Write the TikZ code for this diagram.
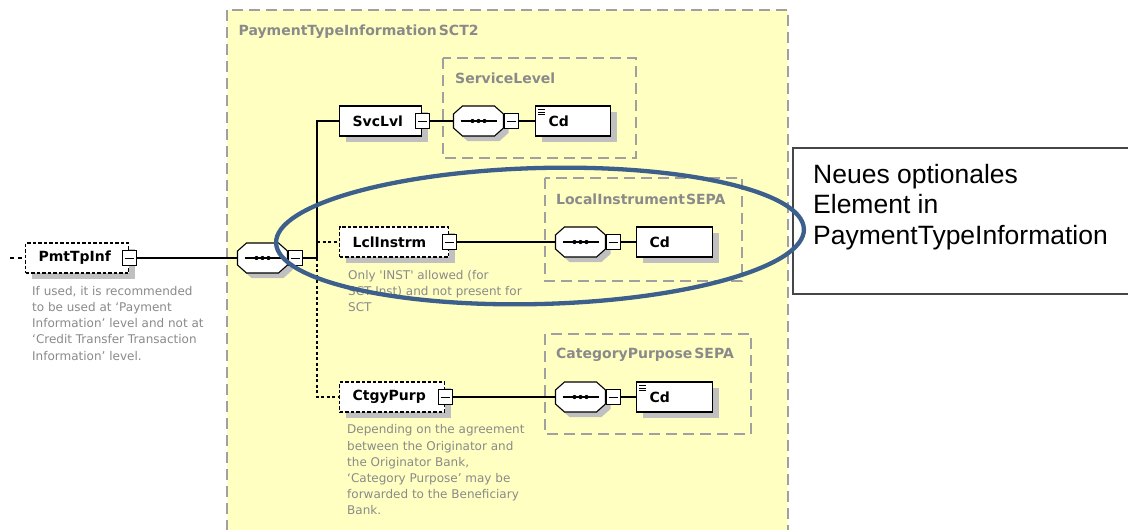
\documentclass[tikz,border=0pt]{standalone}
\usepackage{fontspec}
\setmainfont{DejaVu Sans}[Ligatures=TeXOff]
\newfontfamily\arialf{Liberation Sans}
\usetikzlibrary{shadows}
\definecolor{yel}{RGB}{255,255,194}
\definecolor{boxgray}{RGB}{160,160,160}
\definecolor{txtgray}{RGB}{138,138,138}
\definecolor{shadowgray}{RGB}{192,192,192}
\definecolor{ellblue}{RGB}{60,95,140}
\definecolor{callgray}{RGB}{70,70,70}

\newcommand\octpath{(-25,-7) -- (-16,-15) -- (16,-15) -- (25,-7) -- (25,7) -- (16,15) -- (-16,15) -- (-25,7) -- cycle}
% sequence compositor: name, x, y
\newcommand\seqcomp[3]{%
  \begin{scope}[shift={(#2,#3)}]
    \fill[shadowgray, shift={(5,5)}] \octpath;
    \draw[line width=1.1pt, fill=white] \octpath;
    \draw[line width=1.1pt] (-18,0) -- (18,0);
    \foreach \d in {-6,0,6} \fill (\d,0) circle [radius=2.1];
  \end{scope}
  \node[inner sep=0pt, minimum width=50pt, minimum height=30pt] (#1) at (#2,#3) {};
  \node[expander, anchor=west] (#1x) at (#1.east) {};
}

\begin{document}
\begin{tikzpicture}[x=1pt,y=-1pt,
  conn/.style={line width=1.2pt, black},
  optconn/.style={conn, dash pattern=on 3pt off 2.5pt},
  elem/.style={draw, line width=1.2pt, fill=white, minimum height=30pt,
    inner xsep=13pt, inner ysep=0pt, align=left,
    font=\fontsize{14}{16}\selectfont\bfseries,
    drop shadow={shadow xshift=6pt, shadow yshift=-6pt, fill=shadowgray, opacity=1}},
  optelem/.style={elem, dash pattern=on 3.5pt off 2pt},
  expander/.style={draw, line width=1pt, fill=white, minimum width=14pt,
    minimum height=15pt, inner sep=0pt,
    path picture={\draw[line width=1pt] ([xshift=2.5pt]path picture bounding box.west)
      -- ([xshift=-2.5pt]path picture bounding box.east);}},
  grpbox/.style={draw=boxgray, line width=1.2pt, dash pattern=on 11pt off 6pt},
  grplabel/.style={anchor=base west, inner sep=0pt, text=txtgray,
    font=\fontsize{14}{16}\selectfont\bfseries},
  note/.style={anchor=north west, inner sep=0pt, align=left, text=txtgray,
    font=\fontsize{12}{16.2}\selectfont},
  enumicon/.style={line width=0.7pt},
]
\useasboundingbox (0,0) rectangle (1128,530);
\clip (0,0) rectangle (1128,530);
\fill[white] (0,0) rectangle (1128,530);

% group boxes
\draw[grpbox, fill=yel] (227,10) rectangle (788,545);
\node[grplabel] (lblpti) at (238.5,35) {PaymentTypeInformation\kern2pt SCT2};
\draw[grpbox] (443,58) rectangle (636,158);
\node[grplabel] (lblsl) at (455,83) {ServiceLevel};
\draw[grpbox] (545,178) rectangle (742,281);
\node[grplabel] (lblli) at (556,204) {LocalInstrument\kern1pt SEPA};
\draw[grpbox] (545,334) rectangle (751,434);
\node[grplabel] (lblcp) at (556,358) {CategoryPurpose\kern2pt SEPA};

% root element
\coordinate (pmtin) at (10,258);
\node[optelem, text width=77pt, anchor=west] (pmt) at (25,258) {PmtTpInf};
\node[expander] (pmtx) at (pmt.east) {};
\node[note] (pmtnote) at (32,286) {If used, it is recommended\\to be used at ‘Payment\\Information’ level and not at\\‘Credit Transfer Transaction\\Information’ level.};

% main sequence
\seqcomp{mc}{262.5}{258}
\coordinate (j) at (317,258);

% SvcLvl
\node[elem, text width=56pt, anchor=west] (svc) at (339,121) {SvcLvl};
\node[expander] (svcx) at (svc.east) {};
\seqcomp{slc}{478.5}{121}
\node[elem, text width=49pt, anchor=west] (cd1) at (535,121) {Cd};
\draw[enumicon] ([shift={(3,4)}]cd1.north west) -- ++(7,0)
  ([shift={(3,6.5)}]cd1.north west) -- ++(7,0)
  ([shift={(3,9)}]cd1.north west) -- ++(7,0);

% LclInstrm
\node[optelem, text width=83pt, anchor=west] (lcl) at (339,242) {LclInstrm};
\node[expander] (lclx) at (lcl.east) {};
\node[note] (lclnote) at (348,270) {Only 'INST' allowed (for\\SCT Inst) and not present for\\SCT};
\seqcomp{lic}{580.5}{242}
\node[elem, text width=50pt, anchor=west] (cd2) at (636,242) {Cd};

% CtgyPurp
\node[optelem, text width=79pt, anchor=west] (ctg) at (339,397) {CtgyPurp};
\node[expander] (ctgx) at (ctg.east) {};
\node[note] (ctgnote) at (347,424.5) {Depending on the agreement\\between the Originator and\\the Originator Bank,\\‘Category Purpose’ may be\\forwarded to the Beneficiary\\Bank.};
\seqcomp{cpc}{580.5}{397}
\node[elem, text width=50pt, anchor=west] (cd3) at (636,397) {Cd};
\draw[enumicon] ([shift={(3,4)}]cd3.north west) -- ++(7,0)
  ([shift={(3,6.5)}]cd3.north west) -- ++(7,0)
  ([shift={(3,9)}]cd3.north west) -- ++(7,0);

% connectors
\draw[conn, dash pattern=on 4pt off 4pt] (pmtin) -- (pmt.west);
\draw[conn] (pmtx.east) -- (mc.west);
\draw[conn] (mcx.east) -- (j);
\draw[conn] (j) |- (svc.west);
\draw[optconn] (j) |- (ctg.west);
\draw[optconn] (j |- lcl.west) -- (lcl.west);
\draw[conn] (svcx.east) -- (slc.west);
\draw[conn] (slcx.east) -- (cd1.west);
\draw[conn] (lclx.east) -- (lic.west);
\draw[conn] (licx.east) -- (cd2.west);
\draw[conn] (ctgx.east) -- (cpc.west);
\draw[conn] (cpcx.east) -- (cd3.west);

% callout
\draw[draw=callgray, line width=1.3pt, fill=white] (793,148) rectangle (1140,294);
\node[anchor=north west, inner sep=0pt, align=left,
  font=\arialf\fontsize{26.5}{30.5}\selectfont] (callout) at (813,163.7)
  {Neues optionales\\Element in\\PaymentTypeInformation};

% highlight ellipse
\draw[ellblue, line width=4.3pt, rotate around={1.5:(540,236)}]
  (540,236) ellipse [x radius=264, y radius=68];
\end{tikzpicture}
\end{document}
